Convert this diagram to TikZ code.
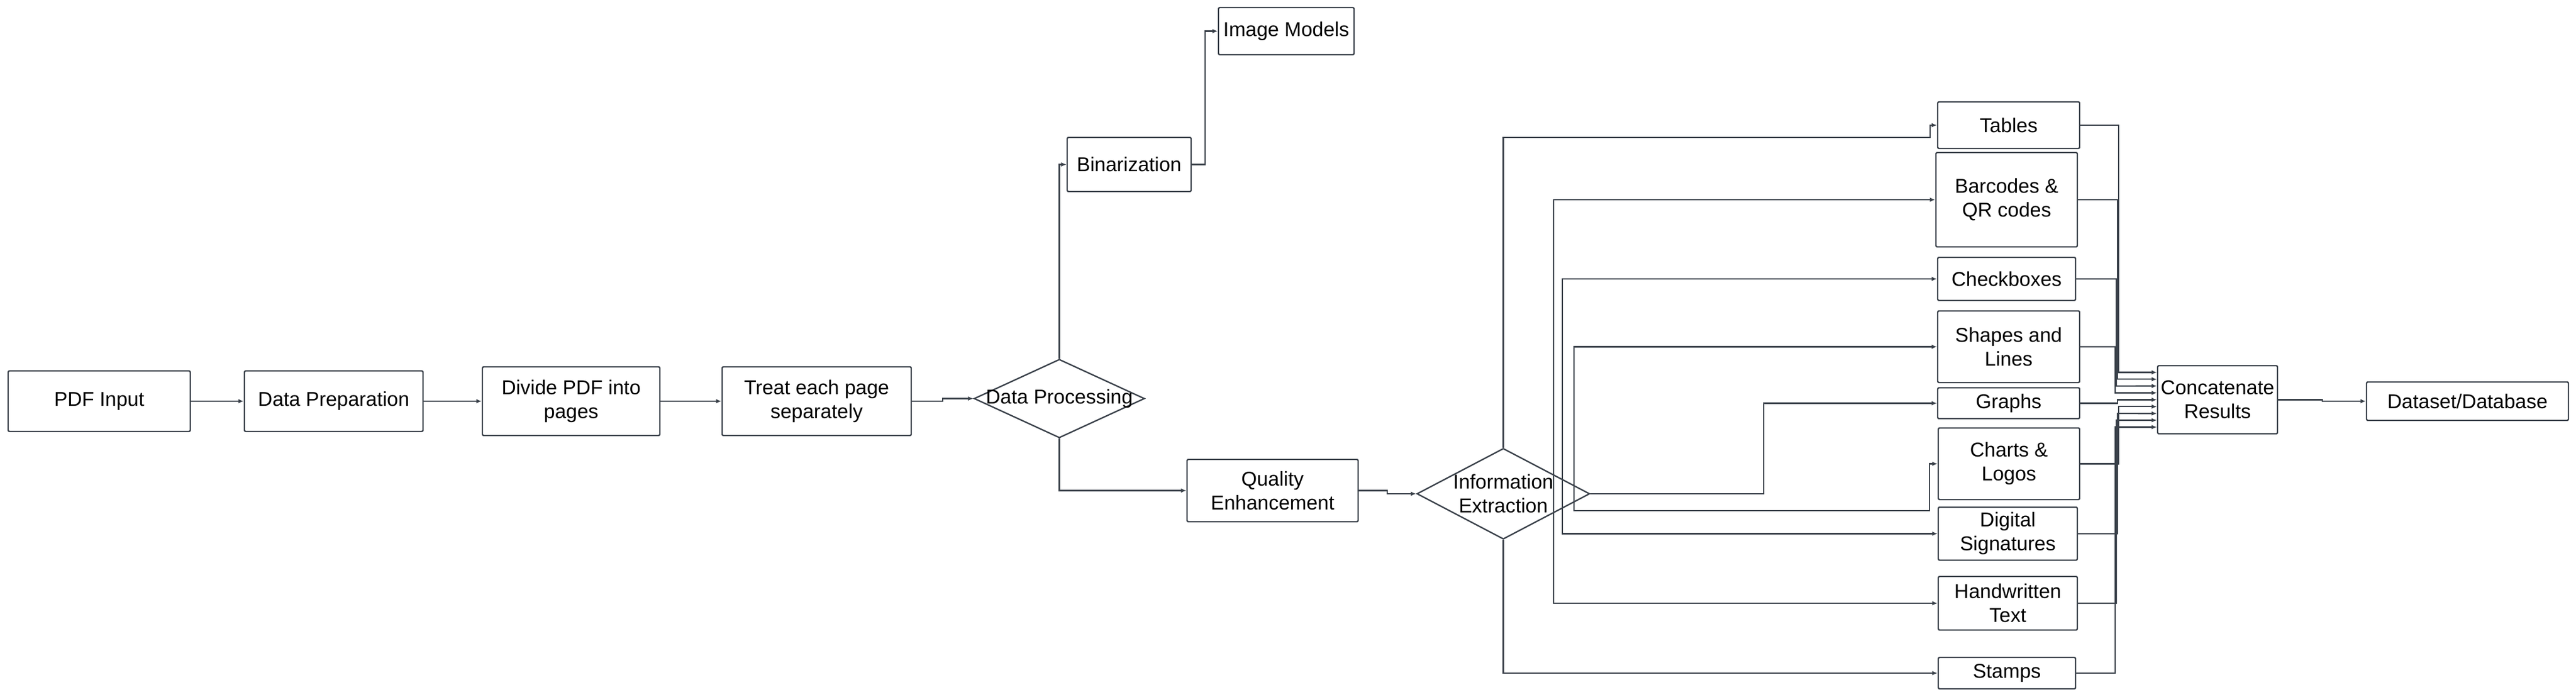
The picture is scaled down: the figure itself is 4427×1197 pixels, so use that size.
\documentclass[tikz,border=0pt]{standalone}
\usepackage{fontspec}
\setmainfont{Liberation Sans}
\usetikzlibrary{shapes.geometric,arrows.meta}
\definecolor{linec}{RGB}{58,65,74}
\newcommand\mybox[6]{\node[box, minimum width={(#4-#2)*0.25pt}, minimum height={(#5-#3)*0.25pt}] (#1) at ({(#2+#4)/2},{(#3+#5)/2}) {#6};}
\begin{document}
\begin{tikzpicture}[x=0.25pt,y=-0.25pt,
  txt/.style={font=\fontsize{8.6pt}{10.3pt}\selectfont, text=black, align=center},
  box/.style={txt, draw=linec, line width=0.6pt, rounded corners=0.6pt, inner sep=0pt},
  diam/.style={draw=linec, line width=0.6pt, diamond, inner sep=0pt},
  lbl/.style={txt, inner sep=0pt},
  conn/.style={draw=linec, line width=0.6pt, -{Latex[length=2.3pt,width=1.9pt]}}]
\useasboundingbox (0,0) rectangle (4427,1197);
% left chain
\mybox{pdf}{14}{637}{327}{741}{PDF Input}
\mybox{prep}{420}{637}{727}{741}{Data Preparation}
\mybox{divide}{829}{630}{1134}{748}{Divide PDF into\\pages}
\mybox{treat}{1241}{630}{1566}{748}{Treat each page\\separately}
\node[diam, minimum width=73.25pt, minimum height=33.75pt] (dp) at (1820.5,684.5) {};
\node[lbl] (dpt) at (dp) {Data Processing};
\mybox{bin}{1834}{236}{2047}{329}{Binarization}
\mybox{img}{2094}{13}{2327}{94}{Image Models}
\mybox{qe}{2040}{789}{2334}{896}{Quality\\Enhancement}
\node[diam, minimum width=74.25pt, minimum height=39pt] (ie) at (2583.5,848) {};
\node[lbl] (iet) at (ie) {Information\\Extraction};
% outputs
\mybox{tables}{3330}{175}{3574}{255}{Tables}
\mybox{barcodes}{3327}{262}{3570}{424}{Barcodes \&\\QR codes}
\mybox{checkboxes}{3330}{442}{3567}{516}{Checkboxes}
\mybox{shapes}{3330}{534}{3574}{657}{Shapes and\\Lines}
\mybox{graphs}{3330}{666}{3574}{719}{Graphs}
\mybox{charts}{3331}{735}{3574}{858}{Charts \&\\Logos}
\mybox{digital}{3331}{871}{3570}{962}{Digital\\Signatures}
\mybox{hand}{3331}{990}{3570}{1082}{Handwritten\\Text}
\mybox{stamps}{3331}{1129}{3567}{1183}{Stamps}
\mybox{concat}{3708}{628}{3914}{745}{Concatenate\\Results}
\mybox{dataset}{4067}{656}{4414}{722}{Dataset/Database}
% connectors left
\draw[conn] (pdf) -- (prep);
\draw[conn] (prep) -- (divide);
\draw[conn] (divide) -- (treat);
\draw[conn] (treat.east) -- ++(53,0) |- (dp.west);
\draw[conn] (dp.north) |- (bin.west);
\draw[conn] (bin.east) -- ++(23,0) |- (img.west);
\draw[conn] (dp.south) |- (qe.west);
\draw[conn] (qe.east) -- ++(49,0) |- (ie.west);
% connectors from information extraction
\coordinate (s1) at (2670,848);
\coordinate (s2) at (2685,848);
\coordinate (s3) at (2705,848);
\draw[conn] (ie.north) |- (3317,236) |- (tables.west);
\draw[conn] (s1) |- (barcodes.west);
\draw[conn] (s2) |- (checkboxes.west);
\draw[conn] (s3) |- (shapes.west);
\draw[conn] (ie.east) -- (3031,848) |- (graphs.west);
\draw[conn] (s3) |- (3316,877) |- (charts.west);
\draw[conn] (s2) |- (digital.west);
\draw[conn] (s1) |- (hand.west);
\draw[conn] (ie.south) |- (stamps.west);
% into concatenate
\draw[conn] (tables.east) -| (3641,639.5) -- ([yshift=11.75pt]concat.west);
\draw[conn] (barcodes.east) -| (3639,651.3) -- ([yshift=8.8pt]concat.west);
\draw[conn] (checkboxes.east) -| (3637,663) -- ([yshift=5.9pt]concat.west);
\draw[conn] (shapes.east) -| (3635,674.7) -- ([yshift=2.95pt]concat.west);
\draw[conn] (graphs.east) -| (3639,686.5) -- (concat.west);
\draw[conn] (charts.east) -| (3641,698.3) -- ([yshift=-2.95pt]concat.west);
\draw[conn] (digital.east) -| (3639,710) -- ([yshift=-5.9pt]concat.west);
\draw[conn] (hand.east) -| (3637,721.7) -- ([yshift=-8.8pt]concat.west);
\draw[conn] (stamps.east) -| (3635,733.5) -- ([yshift=-11.75pt]concat.west);
\draw[conn] (concat.east) -- ++(76,0) |- (dataset.west);
\end{tikzpicture}
\end{document}
